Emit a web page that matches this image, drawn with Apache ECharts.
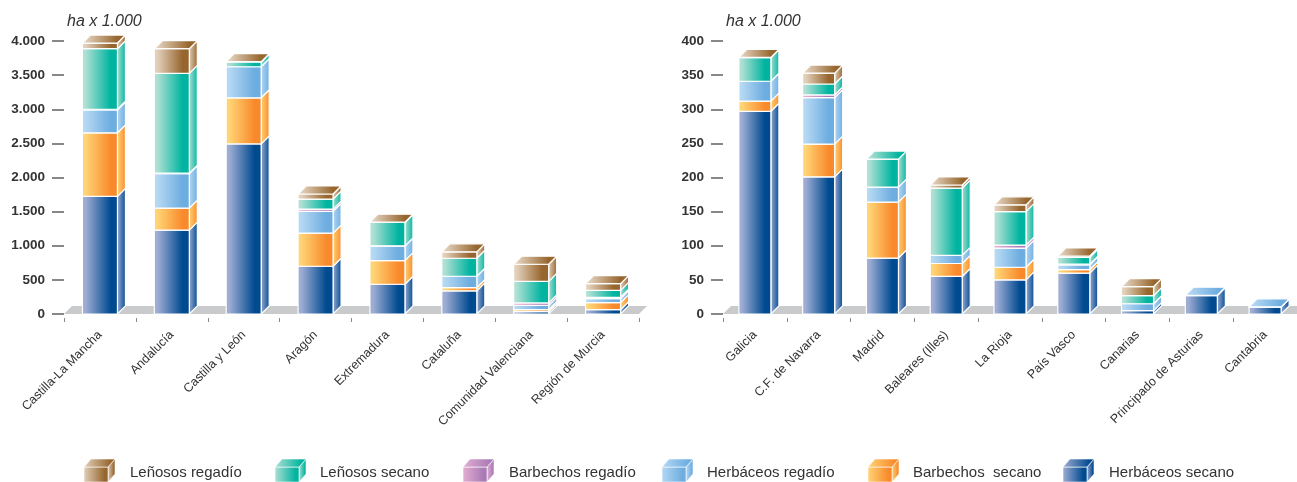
<!DOCTYPE html>
<html><head><meta charset="utf-8">
<script src="https://cdn.jsdelivr.net/npm/echarts@6/dist/echarts.min.js"></script>
<style>html,body{margin:0;padding:0;background:#fff}#c{width:1297px;height:482px}</style>
</head><body><div id="c"></div>
<script>
var seriesNames = ['Herbáceos secano','Barbechos  secano','Herbáceos regadío','Barbechos regadío','Leñosos secano','Leñosos regadío'];
var legendOrder = ['Leñosos regadío','Leñosos secano','Barbechos regadío','Herbáceos regadío','Barbechos  secano','Herbáceos secano'];
var colorStart = ['#9fadd4','#ffd475','#b5d8f3','#e4afd2','#aee0d3','#e2d0bb'];
var colorEnd   = ['#004a90','#f98a2c','#6dade0','#a97ab6','#00b4a0','#97662e'];

var catsA = ['Castilla-La Mancha','Andalucía','Castilla y León','Aragón','Extremadura','Cataluña','Comunidad Valenciana','Región de Murcia'];
var herbSecA = [1723,1229,2492,700,436,338,34,64];
var barbSecA = [931,323,676,485,347,49,30,102];
var herbRegA = [336,504,455,318,211,166,63,59];
var barbRegA = [10,8,0,34,5,0,35,20];
var lenSecA  = [887,1461,69,147,342,264,317,102];
var lenRegA  = [83,362,5,74,5,94,250,98];

var catsB = ['Galicia','C.F. de Navarra','Madrid','Baleares (Illes)','La Rioja','País Vasco','Canarias','Principado de Asturias','Cantabria'];
var herbSecB = [297,201,82,55,50,60,5,27,10];
var barbSecB = [15,48,82,19,18.5,5,0,0,0];
var herbRegB = [29,68,22,12,28,7,10,0.5,0.5];
var barbRegB = [0,4,0,0,4.5,1,0,0,0];
var lenSecB  = [34.5,16,41,98.5,49,10,12,0,0];
var lenRegB  = [0.5,16,0,4.5,10,2,13,0,0];

var DEPTH = 8;
function grad(i){return new echarts.graphic.LinearGradient(0,0,1,0,[
  {offset:0,color:colorStart[i]},{offset:0.1,color:colorStart[i]},{offset:0.8,color:colorEnd[i]},{offset:1,color:colorEnd[i]}]);}
function sideGrad(i){return new echarts.graphic.LinearGradient(0,0,1,0,[
  {offset:0,color:colorStart[i]},{offset:1,color:colorEnd[i]}]);}

function boxItem(layer, layers, barW){
  return function(params, api){
    var cat = api.value(0), from = api.value(1), to = api.value(2), isTop = api.value(3);
    if (to <= from) return null;
    var p0 = api.coord([cat, from]), p1 = api.coord([cat, to]);
    var x0 = p0[0]-barW/2, x1 = p0[0]+barW/2, yB = p0[1], yT = p1[1];
    var st = {stroke:'#fff', lineWidth:1.2};
    var kids = [
      {type:'polygon',shape:{points:[[x1,yB],[x1,yT],[x1+DEPTH,yT-DEPTH],[x1+DEPTH,yB-DEPTH]]},
       style:Object.assign({fill:sideGrad(layer)},st)},
      {type:'rect',shape:{x:x0,y:yT,width:barW,height:yB-yT},style:Object.assign({fill:grad(layer)},st)}
    ];
    if (isTop) kids.push({type:'polygon',shape:{points:[[x0,yT],[x0+DEPTH,yT-DEPTH],[x1+DEPTH,yT-DEPTH],[x1,yT]]},
       style:Object.assign({fill:grad(layer)},st)});
    return {type:'group',children:kids};
  };
}
function floorItem(params, api){
  var cs = params.coordSys, y = api.coord([0,0])[1];
  return {type:'polygon',shape:{points:[[cs.x,y],[cs.x+DEPTH,y-DEPTH],[cs.x+cs.width+DEPTH,y-DEPTH],[cs.x+cs.width,y]]},
          style:{fill:'#c9cacb'}};
}
function buildSeries(idx, layers, barW){
  var out = [{type:'custom',name:'suelo',xAxisIndex:idx,yAxisIndex:idx,z:1,silent:true,
              renderItem:floorItem,data:[[0,0]],encode:{x:0,y:1}}];
  var base = layers[0].map(function(){return 0;});
  var topIdx = layers[0].map(function(_,c){var t=-1;layers.forEach(function(l,i){if(l[c]>0)t=i;});return t;});
  layers.forEach(function(vals,i){
    var data = vals.map(function(v,c){var r=[c,base[c],base[c]+v,topIdx[c]===i?1:0];base[c]+=v;return r;});
    out.push({type:'custom',name:seriesNames[i],xAxisIndex:idx,yAxisIndex:idx,z:2,
      renderItem:boxItem(i,layers,barW),data:data,encode:{x:0,y:[1,2]}});
  });
  return out;
}
function xAxis(cats,idx){return {type:'category',gridIndex:idx,data:cats,offset:4,
  axisLine:{show:false,onZero:false},axisTick:{show:true,length:4,lineStyle:{color:'#888',width:1}},
  axisLabel:{interval:0,rotate:45,margin:15,fontFamily:'"Liberation Sans",Arial',fontSize:12.5,color:'#333'}};}
function yAxis(max,step,idx){return {type:'value',gridIndex:idx,min:0,max:max,interval:step,
  axisLine:{show:false},splitLine:{show:false},
  axisTick:{show:true,length:12,lineStyle:{color:'#888',width:2}},
  axisLabel:{margin:19,padding:[2,0,0,0],fontFamily:'"Liberation Sans",Arial',fontSize:13.5,fontWeight:'bold',color:'#333',
    formatter:function(v){return String(v).replace(/\B(?=(\d{3})+$)/g,'.');}}};}

var legendX = [84,275,463,662,868,1063];
var legendTextX = [130,320,509,707,913,1109];
var legendGraphics = [];
function legendFace(c){return new echarts.graphic.LinearGradient(0,0,1,0,[{offset:0,color:colorStart[c]},{offset:0.85,color:colorEnd[c]},{offset:1,color:colorEnd[c]}]);}
legendOrder.forEach(function(name,i){
  var c = seriesNames.indexOf(name), x = legendX[i], w = 24, d = 7, yT = 467, yB = 482;
  legendGraphics.push(
    {type:'polygon',shape:{points:[[x+w,yB],[x+w,yT],[x+w+d,yT-d-1],[x+w+d,yB-d-1]]},style:{fill:legendFace(c),stroke:'#fff',lineWidth:0.6}},
    {type:'rect',shape:{x:x,y:yT,width:w,height:yB-yT},style:{fill:legendFace(c),stroke:'#fff',lineWidth:0.6}},
    {type:'polygon',shape:{points:[[x,yT],[x+d,yT-d-1],[x+w+d,yT-d-1],[x+w,yT]]},style:{fill:legendFace(c),stroke:'#fff',lineWidth:0.6}},
    {type:'text',x:legendTextX[i],y:473,style:{text:name,fill:'#333',font:'15px "Liberation Sans",Arial',textVerticalAlign:'middle'}}
  );
});
[67,726].forEach(function(x){
  legendGraphics.push({type:'text',x:x,y:22,style:{text:'ha x 1.000',fill:'#333',font:'italic 16px "Liberation Sans",Arial',textVerticalAlign:'middle'}});
});

var chart = echarts.init(document.getElementById('c'),null,{renderer:'canvas'});
chart.setOption({
  animation:false,backgroundColor:'#fff',
  grid:[{left:64,top:41,width:575,height:273},{left:723,top:41,width:576,height:273}],
  xAxis:[xAxis(catsA,0),xAxis(catsB,1)],
  yAxis:[yAxis(4000,500,0),yAxis(400,50,1)],
  graphic:legendGraphics,
  series:buildSeries(0,[herbSecA,barbSecA,herbRegA,barbRegA,lenSecA,lenRegA],35)
    .concat(buildSeries(1,[herbSecB,barbSecB,herbRegB,barbRegB,lenSecB,lenRegB],32))
});
</script></body></html>
